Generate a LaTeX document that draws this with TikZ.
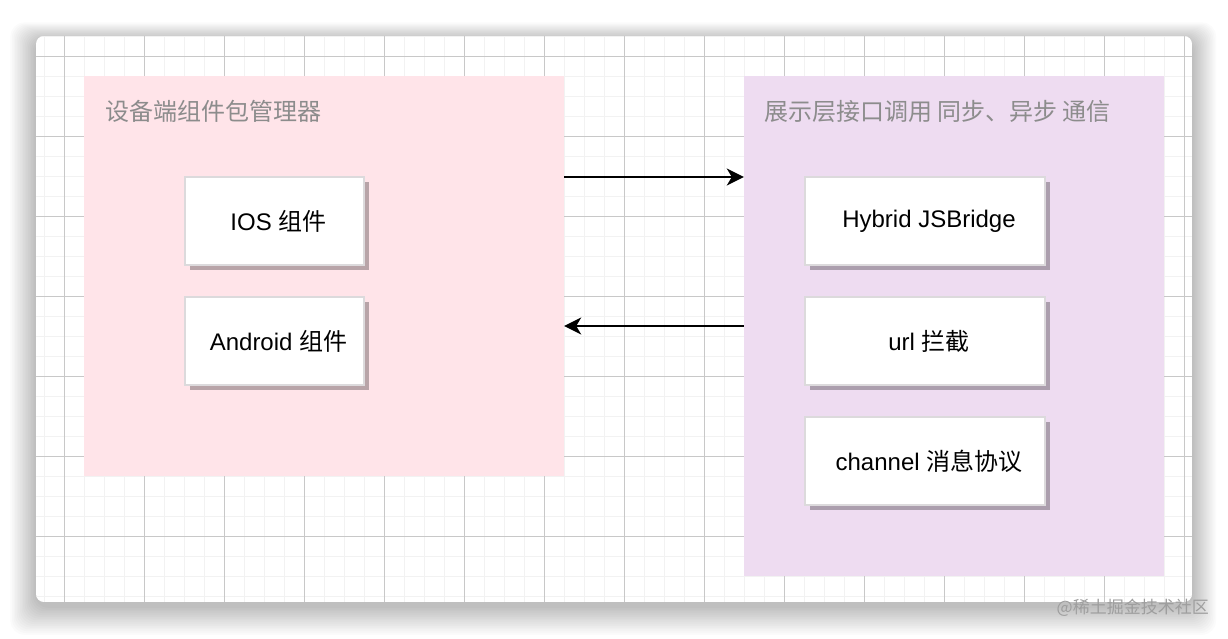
\documentclass[tikz,border=0pt]{standalone}
\usepackage{fontspec}
\setmainfont{Liberation Sans}
\newfontfamily\cjk{Noto Sans CJK SC}
\usetikzlibrary{arrows.meta}
\definecolor{pinkbg}{RGB}{255,228,233}
\definecolor{purplebg}{RGB}{238,220,241}
\definecolor{minorgrid}{RGB}{242,242,242}
\definecolor{majorgrid}{RGB}{200,200,200}
\definecolor{boxborder}{RGB}{220,218,220}
\definecolor{titlegray}{RGB}{140,140,140}
\tikzset{
  container/.style={draw=none, inner sep=0pt},
  titletext/.style={anchor=west, inner sep=0pt, text=titlegray, font=\cjk\fontsize{24}{28}\selectfont},
  compbox/.style={draw=boxborder, line width=1.5pt, fill=white, minimum width=179pt, minimum height=88pt, inner sep=0pt,
    font=\fontsize{24}{28}\selectfont, execute at begin node={\hspace*{8pt}},
    preaction={fill=black, opacity=0.28, transform canvas={shift={(5,5)}}}},
  minorline/.style={draw=minorgrid, line width=1pt},
  majorline/.style={draw=majorgrid, line width=1pt},
  conn/.style={line width=2pt, -{Stealth[length=17pt, width=17pt, inset=5pt]}},
}
\begin{document}
\begin{tikzpicture}[x=1pt, y=-1pt]
\useasboundingbox (0,0) rectangle (1228,638);
\fill[white] (0,0) rectangle (1228,638);
% canvas shadow
\foreach \i in {1,...,16}
  \fill[black, opacity=0.016, rounded corners=14pt] (36-\i*1.6, 36-\i*1.1+4) rectangle (1192+\i*1.5, 602+\i*1.8+4);
\begin{scope}
\clip[rounded corners=8pt] (36,36) rectangle (1192,602);
\fill[white] (36,36) rectangle (1192,602);
\foreach \x in {44,64,...,1192} \draw[minorline] (\x,36) -- (\x,602);
\foreach \y in {36,56,...,602} \draw[minorline] (36,\y) -- (1192,\y);
\foreach \x in {64,144,...,1192} \draw[majorline] (\x,36) -- (\x,602);
\foreach \y in {56,136,...,602} \draw[majorline] (36,\y) -- (1192,\y);
\end{scope}
% containers
\node[container, fill=pinkbg, minimum width=480pt, minimum height=400pt] (L) at (324,276) {};
\node[container, fill=purplebg, minimum width=420pt, minimum height=500pt] (R) at (954,326) {};
\node[titletext] (Lt) at (105,111) {设备端组件包管理器};
\node[titletext] (Rt) at (764,111) {展示层接口调用 同步、异步 通信};
% component boxes
\node[compbox] (ios) at (274.5,221) {IOS {\cjk 组件}};
\node[compbox] (android) at (274.5,341) {Android {\cjk 组件}};
\node[compbox, minimum width=240pt] (hybrid) at (925,221) {Hybrid JSBridge};
\node[compbox, minimum width=240pt] (url) at (925,341) {url {\cjk 拦截}};
\node[compbox, minimum width=240pt] (channel) at (925,461) {channel {\cjk 消息协议}};
% connectors
\draw[conn] (L.east |- 0,177) -- (R.west |- 0,177);
\draw[conn] (R.west |- 0,326) -- (L.east |- 0,326);
% watermark
\node[anchor=east, inner sep=0pt, text=black!38, font=\cjk\fontsize{17}{20}\selectfont] (wm) at (1209,608) {@稀土掘金技术社区};
\end{tikzpicture}
\end{document}
